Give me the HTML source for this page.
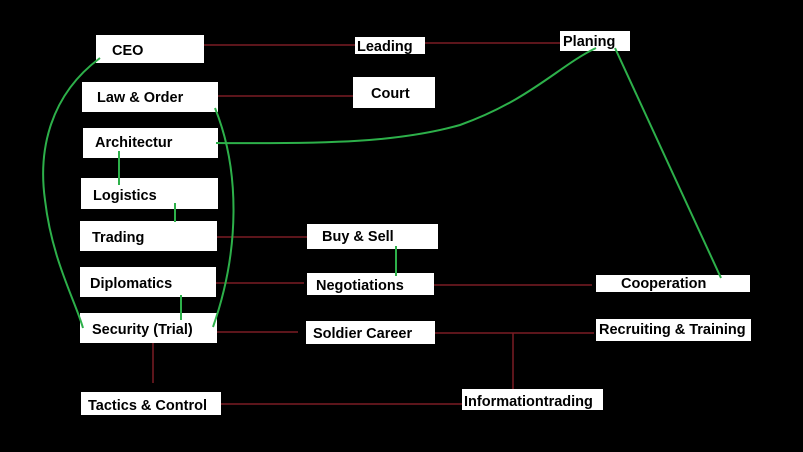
<!DOCTYPE html>
<html><head><style>
html,body{margin:0;padding:0;background:#000;}
svg{display:block}
text{font-family:"Liberation Sans",sans-serif;font-weight:bold;font-size:14.5px;fill:#000}
</style></head><body>
<svg width="803" height="452" viewBox="0 0 803 452">
<rect width="803" height="452" fill="#000"/>
<g stroke="#7a1c24" stroke-width="1.5" fill="none">
<line x1="204" y1="45" x2="355" y2="45"/>
<line x1="425" y1="43" x2="560" y2="43"/>
<line x1="218" y1="96" x2="353" y2="96"/>
<line x1="217" y1="237" x2="307" y2="237"/>
<line x1="216" y1="283" x2="304" y2="283"/>
<line x1="434" y1="285" x2="592" y2="285"/>
<line x1="217" y1="332" x2="298" y2="332"/>
<line x1="435" y1="333" x2="594" y2="333"/>
<line x1="513" y1="333" x2="513" y2="389"/>
<line x1="221" y1="404" x2="462" y2="404"/>
<line x1="153" y1="343" x2="153" y2="383"/>
</g>
<g fill="#fff">
<rect x="96" y="35" width="108" height="28"/>
<rect x="355" y="37" width="70" height="17"/>
<rect x="560" y="31" width="70" height="20"/>
<rect x="82" y="82" width="136" height="30"/>
<rect x="353" y="77" width="82" height="31"/>
<rect x="83" y="128" width="135" height="30"/>
<rect x="81" y="178" width="137" height="31"/>
<rect x="80" y="221" width="137" height="30"/>
<rect x="307" y="224" width="131" height="25"/>
<rect x="80" y="267" width="136" height="30"/>
<rect x="307" y="273" width="127" height="22"/>
<rect x="596" y="275" width="154" height="17"/>
<rect x="80" y="313" width="137" height="30"/>
<rect x="306" y="321" width="129" height="23"/>
<rect x="596" y="319" width="155" height="22"/>
<rect x="81" y="392" width="140" height="23"/>
<rect x="462" y="389" width="141" height="21"/>
</g>
<g stroke="#2db04a" stroke-width="2" fill="none">
<path d="M100 58 C50 95,38 150,45 200 C52 260,75 300,83 328"/>
<path d="M215 108 C240 170,240 250,213 327"/>
<path d="M216 143 C330 144,400 142,460 125 C530 100,560 65,596 48"/>
<line x1="615" y1="48" x2="721" y2="278"/>
<line x1="119" y1="151" x2="119" y2="185"/>
<line x1="175" y1="203" x2="175" y2="222"/>
<line x1="181" y1="295" x2="181" y2="320"/>
<line x1="396" y1="246" x2="396" y2="276"/>
</g>
<text x="112" y="55" font-size="15">CEO</text>
<text x="357" y="51">Leading</text>
<text x="563" y="46">Planing</text>
<text x="97" y="102">Law &amp; Order</text>
<text x="371" y="98">Court</text>
<text x="95" y="147">Architectur</text>
<text x="93" y="200">Logistics</text>
<text x="92" y="242">Trading</text>
<text x="322" y="241">Buy &amp; Sell</text>
<text x="90" y="288">Diplomatics</text>
<text x="316" y="290">Negotiations</text>
<text x="621" y="288">Cooperation</text>
<text x="92" y="334">Security (Trial)</text>
<text x="313" y="338">Soldier Career</text>
<text x="599" y="334">Recruiting &amp; Training</text>
<text x="88" y="410">Tactics &amp; Control</text>
<text x="464" y="406">Informationtrading</text>
</svg>
</body></html>
